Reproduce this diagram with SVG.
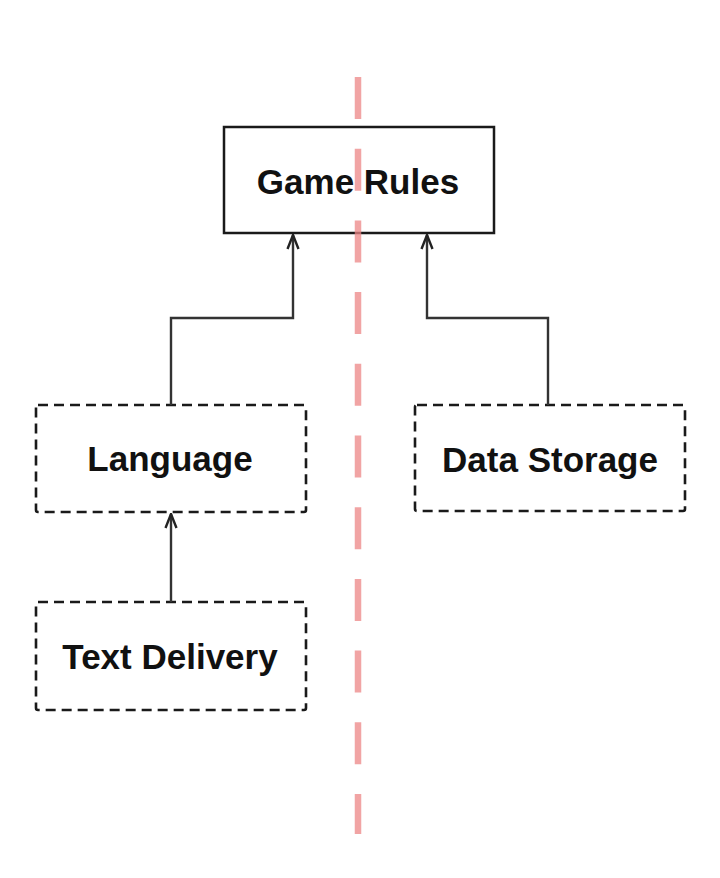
<svg xmlns="http://www.w3.org/2000/svg" width="720" height="878" viewBox="0 0 720 878">
<defs>
<marker id="arr" viewBox="0 0 16 14" refX="15" refY="7" markerWidth="16" markerHeight="14" orient="auto" markerUnits="userSpaceOnUse">
<path d="M1,1.5 L15,7 L1,12.5" fill="none" stroke="#222" stroke-width="2.4"/>
</marker>
</defs>
<style>
.solid{fill:#fff;stroke:#1a1a1a;stroke-width:2.5}
.dash{fill:#fff;stroke:#1a1a1a;stroke-width:2.6;stroke-dasharray:10 6}
.lbl{font-family:"Liberation Sans",Arial,sans-serif;font-weight:bold;font-size:35px;fill:#111;text-anchor:middle}
.conn{fill:none;stroke:#333;stroke-width:2.4}
</style>
<rect width="720" height="878" fill="#fff"/>
<g id="game-rules">
<rect class="solid" x="224" y="127" width="270" height="106"/>
</g>
<g id="language">
<rect class="dash" x="36" y="405" width="270" height="107" rx="2"/>
<text class="lbl" x="170" y="471">Language</text>
</g>
<g id="text-delivery">
<rect class="dash" x="36" y="602" width="270" height="108" rx="2"/>
<text class="lbl" x="170" y="669">Text Delivery</text>
</g>
<g id="data-storage">
<rect class="dash" x="415" y="405" width="270" height="106" rx="2"/>
<text class="lbl" x="550" y="472">Data Storage</text>
</g>
<g id="connectors">
<path class="conn" d="M171,405 V318 H293 V235" marker-end="url(#arr)"/>
<path class="conn" d="M548,405 V318 H427 V235" marker-end="url(#arr)"/>
<path class="conn" d="M171,602 V514" marker-end="url(#arr)"/>
</g>
<g id="boundary">
<line x1="358" y1="77" x2="358" y2="834" stroke="#ec8585" stroke-opacity="0.75" stroke-width="6.5" stroke-dasharray="42 29.7"/>
</g>
<g id="game-rules-label">
<text class="lbl" x="358" y="194">Game Rules</text>
</g>
</svg>
